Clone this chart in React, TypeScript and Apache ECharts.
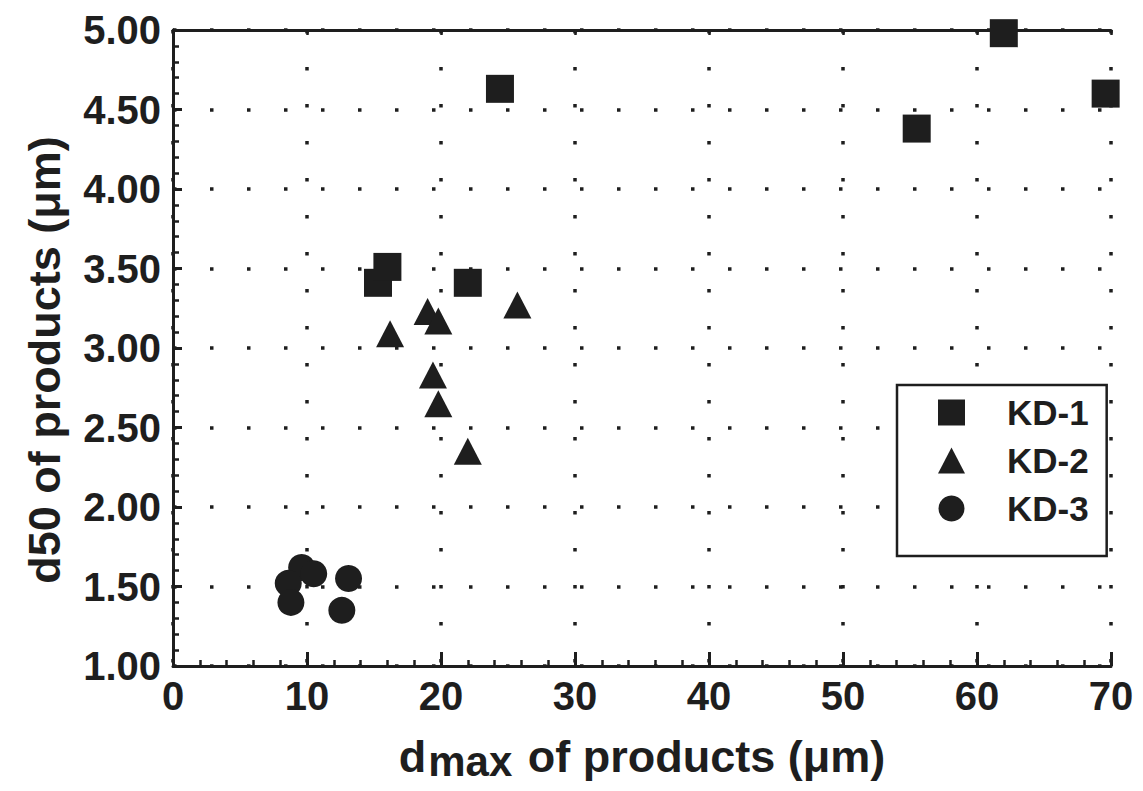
import React, { useEffect, useRef } from "react";
import * as echarts from "echarts";

const kd1X = [24.4, 15.3, 16.0, 22.0, 55.5, 62.0, 69.6];
const kd1Y = [4.63, 3.41, 3.51, 3.41, 4.38, 4.98, 4.6];
const kd2X = [16.2, 19.0, 19.8, 25.7, 19.4, 19.8, 22.0];
const kd2Y = [3.09, 3.23, 3.17, 3.27, 2.83, 2.65, 2.35];
const kd3X = [9.6, 10.5, 8.6, 8.8, 13.1, 12.6];
const kd3Y = [1.62, 1.58, 1.52, 1.4, 1.55, 1.35];
const seriesNames = ["KD-1", "KD-2", "KD-3"];

const INK = "#1e1e1e";
const FONT = "'Liberation Sans', Arial, sans-serif";

function pairs(xs: number[], ys: number[]) {
  return xs.map((x, i) => [x, ys[i]]);
}

export default function App() {
  const ref = useRef<HTMLDivElement>(null);
  useEffect(() => {
    if (!ref.current) return;
    const chart = echarts.init(ref.current, undefined, { renderer: "svg" });
    const dotted = { color: INK, width: 3.5, type: [3.5, 33.5] as any };
    const labelStyle = {
      color: INK,
      fontFamily: FONT,
      fontWeight: "bold" as const,
      fontSize: 40,
    };
    const nameFont = { fontFamily: FONT, fontWeight: "bold" as const, color: INK };
    chart.setOption({
      animation: false,
      backgroundColor: "#fff",
      grid: { left: 173, top: 30, right: 32, bottom: 125 },
      legend: {
        orient: "vertical",
        left: 897,
        top: 385,
        data: [
          { name: seriesNames[0], icon: "rect" },
          { name: seriesNames[1], icon: "triangle" },
          { name: seriesNames[2], icon: "circle" },
        ],
        itemWidth: 27,
        itemHeight: 26,
        itemGap: 13,
        padding: [10, 18, 30, 41],
        borderColor: INK,
        borderWidth: 2.5,
        borderRadius: 0,
        backgroundColor: "#fff",
        selectedMode: false,
        itemStyle: { opacity: 1 },
        textStyle: {
          color: INK,
          fontFamily: FONT,
          fontWeight: "bold",
          fontSize: 35,
          lineHeight: 34,
          padding: [0, 0, 0, 37],
        },
      },
      xAxis: [
        {
          type: "value",
          min: 0,
          max: 70,
          interval: 10,
          position: "bottom",
          name: "{d|d}{s|max}{n| of products (\u03bcm)}",
          nameLocation: "middle",
          nameGap: 68,
          nameTextStyle: {
            rich: {
              d: { ...nameFont, fontSize: 45, lineHeight: 45 },
              s: { ...nameFont, fontSize: 42, lineHeight: 42, padding: [10, 3, 0, 2] },
              n: { ...nameFont, fontSize: 45, lineHeight: 45 },
            },
          },
          axisLine: { show: true, lineStyle: { color: INK, width: 3 } },
          axisTick: { show: true, inside: true, length: 14, lineStyle: { color: INK, width: 3 } },
          minorTick: { show: true, splitNumber: 5, length: 6, lineStyle: { color: INK, width: 2.5 } },
          axisLabel: { ...labelStyle, margin: 10 },
          splitLine: { show: true, lineStyle: dotted },
        },
        {
          type: "value",
          min: 0,
          max: 70,
          interval: 10,
          position: "top",
          axisLine: { show: true, lineStyle: { color: INK, width: 3 } },
          axisTick: { show: true, inside: true, length: 5, lineStyle: { color: INK, width: 2.5 } },
          axisLabel: { show: false },
          splitLine: { show: false },
        },
      ],
      yAxis: [
        {
          type: "value",
          min: 1,
          max: 5,
          interval: 0.5,
          position: "left",
          name: "d50 of products (\u03bcm)",
          nameLocation: "middle",
          nameGap: 106,
          nameTextStyle: { ...nameFont, fontSize: 45, padding: [0, 24, 0, 0] },
          axisLine: { show: true, lineStyle: { color: INK, width: 3 } },
          axisTick: { show: true, inside: true, length: 9, lineStyle: { color: INK, width: 3 } },
          minorTick: { show: true, splitNumber: 5, length: 6, lineStyle: { color: INK, width: 2.5 } },
          axisLabel: { ...labelStyle, margin: 12, formatter: (v: number) => v.toFixed(2) },
          splitLine: { show: true, lineStyle: dotted },
        },
        {
          type: "value",
          min: 1,
          max: 5,
          interval: 0.5,
          position: "right",
          axisLine: { show: true, lineStyle: { color: INK, width: 3 } },
          axisTick: { show: false },
          axisLabel: { show: false },
          splitLine: { show: false },
        },
      ],
      series: [
        {
          name: seriesNames[0],
          type: "scatter",
          symbol: "rect",
          symbolSize: 28,
          clip: false,
          itemStyle: { color: INK, opacity: 1 },
          data: pairs(kd1X, kd1Y),
          z: 5,
        },
        {
          name: seriesNames[1],
          type: "scatter",
          symbol: "triangle",
          symbolSize: [28, 27],
          clip: false,
          itemStyle: { color: INK, opacity: 1 },
          data: pairs(kd2X, kd2Y),
          z: 5,
        },
        {
          name: seriesNames[2],
          type: "scatter",
          symbol: "circle",
          symbolSize: 27,
          clip: false,
          itemStyle: { color: INK, opacity: 1 },
          data: pairs(kd3X, kd3Y),
          z: 5,
        },
      ],
    });
    return () => chart.dispose();
  }, []);
  return <div ref={ref} style={{ width: 1143, height: 791, position: "absolute", left: 0, top: 0 }} />;
}
